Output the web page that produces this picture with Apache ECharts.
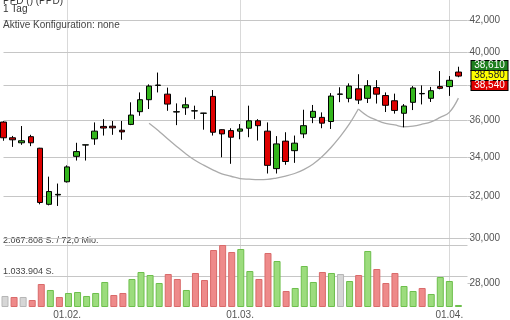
<!DOCTYPE html>
<html><head><meta charset="utf-8">
<script src="https://cdn.jsdelivr.net/npm/echarts@6/dist/echarts.min.js"></script>
<style>html,body{margin:0;padding:0;background:#fff}#c{width:510px;height:320px}</style>
</head><body><div id="c"></div>
<script>
// ---- data ----
const dates = ['21.01.','24.01.','25.01.','26.01.','27.01.','28.01.','31.01.',
  '01.02.','02.02.','03.02.','04.02.','07.02.','08.02.','09.02.','10.02.','11.02.','14.02.','15.02.','16.02.','17.02.','18.02.','22.02.','23.02.','24.02.','25.02.','28.02.',
  '01.03.','02.03.','03.03.','04.03.','07.03.','08.03.','09.03.','10.03.','11.03.','14.03.','15.03.','16.03.','17.03.','18.03.','21.03.','22.03.','23.03.','24.03.','25.03.','28.03.','29.03.','30.03.','31.03.',
  '01.04.','04.04.'];
const openP  = [35900,35040,34770,35100,34480,31620,32080,32740,34050,34650,34980,35660,35670,35450,35770,36480,37160,37990,37480,36460,36700,36520,36390,37350,35480,35430,35400,35560,35970,35400,33410,34860,34350,35250,36160,36160,35930,37470,37240,37790,37240,37860,37400,37100,36390,37010,37500,37240,37920,37920,38780];
const highP  = [35950,35140,35680,35200,34500,33000,32650,33580,34770,34660,35880,36060,35960,35960,37010,37580,38050,38750,37860,36950,37290,36820,36410,37720,35500,35560,35790,36820,36060,35880,35130,35340,35160,36590,36860,36440,37540,37880,38110,38650,38300,38300,37580,37510,36910,37950,37990,37900,38840,38540,39100];
const lowP   = [34880,34550,34660,34590,31620,31570,31540,32700,33830,33830,34660,35160,35200,34930,35730,36250,36630,37580,36530,35730,36300,36060,35480,35160,34000,33660,34960,35070,34890,33160,33160,33610,33710,35020,35840,35560,35520,37020,37010,36910,36970,36940,36460,36370,35610,36570,36890,37030,37760,37380,38470];
const closeP = [35040,34930,34880,34770,31710,32250,32110,33500,34300,34660,35400,35570,35580,35360,36290,37160,37950,38010,36910,36480,36870,36530,36400,35340,35250,35070,35520,35970,35700,33580,34710,33780,34750,35700,36500,35840,37370,37490,37950,37140,37970,37480,36840,36550,36800,37840,37520,37680,37820,38290,38540];
const volume = [367000,334000,334000,233000,767000,567000,334000,467000,500000,367000,467000,834000,400000,467000,934000,1167000,1067000,800000,1100000,934000,567000,1134000,900000,1901000,2067808,1834000,1934000,1200000,934000,1801000,1534000,534000,634000,1367000,834000,1167000,1134000,1100000,867000,1067000,1868000,1267000,800000,1134000,700000,534000,634000,434000,1000000,867000,67000];
const volumeDir = ['n','d','n','d','d','u','d','u','u','u','u','u','d','d','u','u','u','u','d','d','u','d','d','d','d','d','u','u','d','d','u','d','u','u','u','d','u','n','u','d','u','d','d','d','u','u','d','u','u','u','u'];
const priceTicks = [28000,30000,32000,34000,36000,38000,40000,42000];
const cupStart = 16;
const cupCurve = [35840,35440,35000,34590,34200,33860,33590,33350,33140,33020,32900,32870,32850,32860,32930,33030,33160,33360,33640,34030,34520,35100,35780,36630];
const handleStart = 39;
const handleCurve = [36630,36240,36010,35830,35740,35640,35680,35780,35910,36160,36440,37250];
const quoteLabels = [38610, 38580, 38540];
const volumeTurnover = '72,0 Mio.';
const titleLines = ['PPD () (PPD)', '1 Tag'];
const configText = 'Aktive Konfiguration: none';

// ---- helpers ----
const FONT = "'Liberation Sans', Arial, sans-serif";
const fmtEN = v => String(Math.round(v)).replace(/\B(?=(\d{3})+(?!\d))/g, ',');
const fmtDE = v => String(Math.round(v)).replace(/\B(?=(\d{3})+(?!\d))/g, '.');
const isMonthStart = (idx, val) => typeof val === 'string' && val.indexOf('01.') === 0;
const volMax = Math.max(...volume);
const dirColor = {u:['#9cdc7d','#6dbf4c'], d:['#ee8a8a','#d96a6a'], n:['#d6d6d6','#b6b6b6']};
const GRID_COLOR = '#c6c6c6';

const candleData = openP.map((o,i)=>[o, closeP[i], lowP[i], highP[i]]);
const volData = volume.map((v,i)=>({value:v, itemStyle:{color:dirColor[volumeDir[i]][0], borderColor:dirColor[volumeDir[i]][1], borderWidth:1}}));
const cupData = cupCurve.map((v,k)=>[cupStart+k, v]);
const handleData = handleCurve.map((v,k)=>[handleStart+k, v]);
// price grid lines (the lowest tick sits inside the volume pane and has no line there)
const priceGridLines = priceTicks.filter((t,i)=>i>0).map(t=>({yAxis:t}));
const volGridLines = [{yAxis:volMax/2},{yAxis:volMax}];

const gridLineMark = data => ({silent:true, symbol:'none', animation:false, z:1,
  lineStyle:{color:GRID_COLOR, width:1, type:'solid', opacity:1}, label:{show:false}, emphasis:{disabled:true}, data});

const GL = 3.5, GR = 42.5;
const chart = echarts.init(document.getElementById('c'), null, {renderer:'canvas'});
chart.setOption({
  animation:false,
  backgroundColor:'#fff',
  textStyle:{fontFamily:FONT},
  graphic:[
    {type:'text', x:3, y:1, z:100, style:{text:titleLines[0], font:'10px '+FONT, fill:'#333', verticalAlign:'middle'}},
    {type:'text', x:3, y:9.5, z:100, style:{text:titleLines[1], font:'10px '+FONT, fill:'#333', verticalAlign:'middle'}},
    {type:'text', x:3, y:25.5, z:100, style:{text:configText, font:'10px '+FONT, fill:'#444', verticalAlign:'middle'}}
  ],
  grid:[
    {left:GL, right:GR, top:0, bottom:13},
    {left:GL, right:GR, top:245, height:62}
  ],
  xAxis:[
    {type:'category', gridIndex:0, data:dates, boundaryGap:false, max:dates.length,
     axisLine:{show:false}, axisTick:{show:false},
     axisLabel:{interval:isMonthStart, fontSize:10, color:'#555', margin:5, fontFamily:FONT},
     splitLine:{show:true, interval:isMonthStart, lineStyle:{color:'#d9d9d9', width:1}}},
    {type:'category', gridIndex:1, data:dates, boundaryGap:false, max:dates.length,
     axisLine:{show:false}, axisTick:{show:false}, axisLabel:{show:false}, splitLine:{show:false}}
  ],
  yAxis:[
    {type:'log', logBase:10, gridIndex:0, position:'right', min:27070, max:43341,
     axisLine:{show:false},
     axisTick:{show:true, length:4, lineStyle:{color:'#c6c6c6'}, customValues:priceTicks},
     axisLabel:{customValues:priceTicks, formatter:v=>fmtEN(v), fontSize:10, color:'#555', margin:2, fontFamily:FONT},
     splitLine:{show:false}},
    {type:'value', gridIndex:1, position:'left', min:0, max:volMax, interval:volMax/2,
     axisLine:{show:false}, axisTick:{show:false},
     axisLabel:{inside:true, showMinLabel:false, verticalAlign:'bottom', fontSize:9, color:'#444', margin:-2, fontFamily:FONT,
       formatter:v=> v>=volMax ? fmtDE(v)+' S. / '+volumeTurnover : (v>0 ? fmtDE(v)+' S.' : '')},
     splitLine:{show:false}}
  ],
  series:[
    {type:'bar', xAxisIndex:1, yAxisIndex:1, data:volData, barWidth:7, z:2,
     markLine:gridLineMark(volGridLines)},
    {type:'line', xAxisIndex:0, yAxisIndex:0, data:cupData, smooth:0.4, symbol:'none', z:2,
     lineStyle:{color:'#ababab', width:1.3},
     markLine:gridLineMark(priceGridLines)},
    {type:'line', xAxisIndex:0, yAxisIndex:0, data:handleData, smooth:0.4, symbol:'none', z:2,
     lineStyle:{color:'#ababab', width:1.3}},
    {type:'candlestick', xAxisIndex:0, yAxisIndex:0, data:candleData, barWidth:6, z:3,
     itemStyle:{color:'#33b51c', color0:'#dd0000', borderColor:'#000', borderColor0:'#000', borderColorDoji:'#000', borderWidth:1},
     markLine:{silent:true, symbol:'none', animation:false,
       lineStyle:{color:'rgba(0,0,0,0)', width:0},
       emphasis:{disabled:true},
       label:{show:true, position:'end', distance:4,
         formatter:()=>'{g|'+fmtEN(quoteLabels[0])+'}\n{y|'+fmtEN(quoteLabels[1])+'}\n{r|'+fmtEN(quoteLabels[2])+'}',
         rich:{
           g:{backgroundColor:'#1f7f1f', color:'#fff', borderColor:'#000', borderWidth:1, width:32, height:9, lineHeight:10, padding:[0,2], align:'center', fontSize:10, fontFamily:FONT},
           y:{backgroundColor:'#ffff00', color:'#222', borderColor:'#000', borderWidth:1, width:32, height:9, lineHeight:10, padding:[0,2], align:'center', fontSize:10, fontFamily:FONT},
           r:{backgroundColor:'#e00000', color:'#fff', borderColor:'#000', borderWidth:1, width:32, height:9, lineHeight:10, padding:[0,2], align:'center', fontSize:10, fontFamily:FONT}
         }},
       data:[{yAxis:quoteLabels[1]}]}}
  ]
});
</script></body></html>
